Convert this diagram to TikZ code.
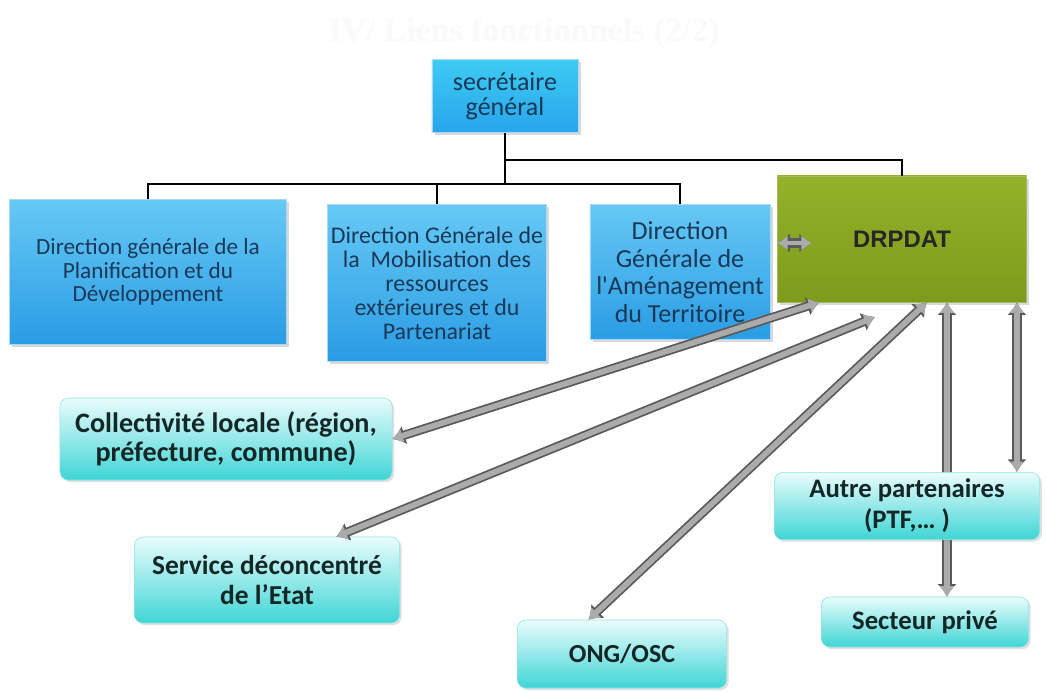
\documentclass[tikz,border=0pt]{standalone}
\usepackage{fontspec}
\setmainfont{Carlito}
\newfontfamily\arialfont{Liberation Sans}
\newfontfamily\titlefont{Liberation Serif}
\usetikzlibrary{arrows.meta,shadows,calc}
\pgfdeclarelayer{back}
\pgfsetlayers{back,main}
\definecolor{skytop}{HTML}{66C9F5}
\definecolor{skybot}{HTML}{2A9CE4}
\definecolor{sgtop}{HTML}{3DCCF2}
\definecolor{sgbot}{HTML}{28A4EC}
\definecolor{olivetop}{HTML}{95B22A}
\definecolor{olivebot}{HTML}{7D9A1B}
\definecolor{aquatop}{HTML}{EAFCFC}
\definecolor{aquabot}{HTML}{3FD5D5}
\definecolor{navytxt}{HTML}{1B3857}
\definecolor{darktxt}{HTML}{152626}
\definecolor{linkfill}{HTML}{ABABAB}
\definecolor{linkedge}{HTML}{5A5A5A}

\begin{document}
\begin{tikzpicture}[x=0.025cm, y=-0.025cm]
    \tikzset{
      topbox/.style={draw=skybot!40!white, top color=skytop, bottom color=skybot, text=navytxt,
        align=center, inner sep=1pt, drop shadow={opacity=0.3, shadow xshift=2pt, shadow yshift=-2pt}},
      lowbox/.style={draw=aquabot!60!white, rounded corners=6pt, top color=aquatop, bottom color=aquabot,
        text=darktxt, align=center, inner sep=1pt, font=\bfseries,
        drop shadow={opacity=0.25, shadow xshift=1.5pt, shadow yshift=-1.5pt}},
      tree/.style={line width=2pt, black},
      link/.style={line width=4pt, draw=linkfill, {Latex[length=7.5pt,width=11pt]}-{Latex[length=7.5pt,width=11pt]},
        preaction={draw=linkedge, line width=6.5pt, {Latex[length=9pt,width=14pt]}-{Latex[length=9pt,width=14pt]}}},
    }
    \begin{pgfonlayer}{back}
      \fill[white] (0,0) rectangle (1046,691);
    \end{pgfonlayer}
    \useasboundingbox (0,0) rectangle (1046,691);

    \node [text=black!2, font=\titlefont\bfseries\fontsize{24}{24}\selectfont] (ttl) at (524,33) {IV/ Liens fonctionnels (2/2)};

    \node [topbox, top color=sgtop, bottom color=sgbot, minimum width=3.65cm, minimum height=1.83cm,
      font=\fontsize{18.5}{18}\selectfont] (sg) at (505,96) {secrétaire\\général};
    \node [topbox, minimum width=6.93cm, minimum height=3.63cm, font=\fontsize{16.5}{16.5}\selectfont] (dgpd) at (148,272)
      {Direction générale de la\\Planification et du\\Développement};
    \node [topbox, minimum width=5.48cm, minimum height=3.93cm, font=\fontsize{17}{17}\selectfont] (dgmr) at (437,283)
      {Direction Générale de\\la~ Mobilisation des\\ressources\\extérieures et du\\Partenariat};
    \node [topbox, minimum width=4.5cm, minimum height=3.38cm, font=\fontsize{18.5}{19.5}\selectfont] (dgat) at (680,272)
      {Direction\\Générale de\\l\textquotesingle Aménagement\\du Territoire};
    \node [draw=olivebot!70!white, top color=olivetop, bottom color=olivebot, text=black!85,
      minimum width=6.23cm, minimum height=3.15cm, font=\arialfont\bfseries\fontsize{17}{17}\selectfont,
      drop shadow={opacity=0.3, shadow xshift=2pt, shadow yshift=-2pt}] (drpdat) at (902,239) {DRPDAT};

    \node [lowbox, minimum width=8.3cm, minimum height=2.05cm, font=\bfseries\fontsize{20}{20.5}\selectfont] (coll) at (226,439)
      {Collectivité locale (région,\\préfecture, commune)};
    \node [lowbox, minimum width=6.63cm, minimum height=2.15cm, font=\bfseries\fontsize{19.5}{21}\selectfont] (serv) at (267,580)
      {Service déconcentré\\de l’Etat};
    \node [lowbox, minimum width=5.23cm, minimum height=1.7cm, font=\bfseries\fontsize{18.5}{19}\selectfont] (ong) at (622,654)
      {ONG/OSC};
    \node [lowbox, minimum width=6.63cm, minimum height=1.68cm, font=\bfseries\fontsize{19}{22}\selectfont] (autre) at (907,506)
      {Autre partenaires\\(PTF,\dots\ )};
    \node [lowbox, minimum width=5.18cm, minimum height=1.25cm, font=\bfseries\fontsize{19}{19}\selectfont] (prive) at (925,622)
      {Secteur privé};

    \coordinate (bus) at (505,184);
    \coordinate (split) at (505,160);
    \draw[tree] (sg.south) -- (bus);
    \draw[tree] (drpdat.north) |- (split);
    \draw[tree] (dgpd.north) |- (bus);
    \draw[tree] (dgat.north) |- (bus);
    \draw[tree] (dgmr.north) -- (dgmr.north |- bus);

    \path ($(drpdat.south west)!.17!(drpdat.south east)$) coordinate (d1)
          ($(drpdat.south west)!.6!(drpdat.south east)$) coordinate (d3)
          ($(drpdat.south west)!.68!(drpdat.south east)$) coordinate (d4)
          ($(drpdat.south west)!.96!(drpdat.south east)$) coordinate (d5)
          ($(serv.north west)!.76!(serv.north east)$) coordinate (s2)
          ($(ong.north west)!.34!(ong.north east)$) coordinate (o3);
    \coordinate (servend) at (875,317);
    \coordinate (dgatlink) at (812,243);

    \draw[link, line width=2.5pt, preaction={line width=4pt}] (drpdat.west |- dgatlink) -- (dgatlink);
    \draw[link] (coll.east) -- (d1);
    \draw[link] (s2) -- (servend);
    \draw[link] (o3) -- (d3);
    \begin{pgfonlayer}{back}
      \draw[link] (d4) -- (d4 |- prive.north);
    \end{pgfonlayer}
    \draw[link] (d5) -- (d5 |- autre.north);

  \end{tikzpicture}
\end{document}
